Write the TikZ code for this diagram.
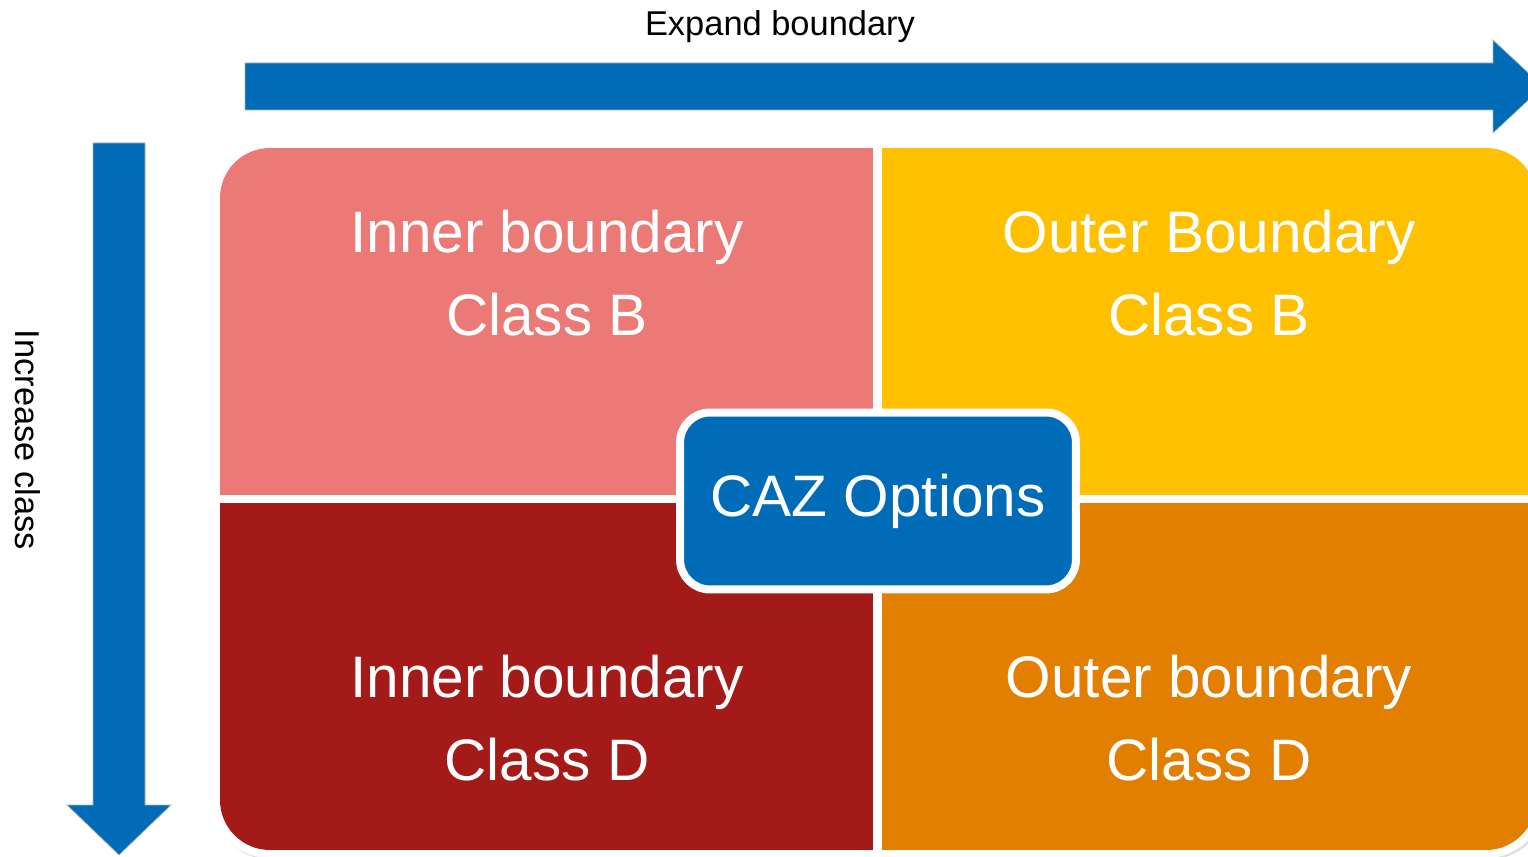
\documentclass[tikz,border=0pt]{standalone}
\usepackage{fontspec}
\setmainfont{Liberation Sans}
\usetikzlibrary{shadows}
\definecolor{cazblue}{RGB}{0,108,183}
\definecolor{innerB}{RGB}{235,122,119}
\definecolor{outerB}{RGB}{255,192,0}
\definecolor{innerD}{RGB}{163,26,24}
\definecolor{outerD}{RGB}{226,126,0}
\begin{document}
\begin{tikzpicture}[x=0.02cm, y=-0.02cm,
  quadtext/.style = {align=center, text=white,
    font=\fontsize{33.3pt}{47.6pt}\selectfont},
  bigarrow/.style = {fill=cazblue, draw=gray!60, line width=0.4pt},
  axistext/.style = {font=\fontsize{19.6pt}{24pt}\selectfont}]
  \useasboundingbox (0,0) rectangle (1528,857);
  \clip (0,0) rectangle (1528,857);
  % arrows
  \draw[bigarrow] (245,63) -- (1493,63) -- (1493,40) -- (1543,86.5)
    -- (1493,133) -- (1493,110) -- (245,110) -- cycle;
  \draw[bigarrow] (93,143) -- (145,143) -- (145,805) -- (171,805)
    -- (119,855) -- (67,805) -- (93,805) -- cycle;
  \node[axistext, anchor=base] (expand) at (780,36) {Expand boundary};
  \node[axistext, rotate=-90] (increase) at (28,440) {Increase class};
  % quadrants
  \fill[white, rounded corners=1.15cm,
    drop shadow={opacity=0.25, shadow xshift=1pt, shadow yshift=-1pt}]
    (212,140) rectangle (1544,858);
  \begin{scope}
    \clip[rounded corners=1cm] (220,148) rectangle (1536,850);
    \fill[innerB] (220,148) rectangle (873,495);
    \fill[outerB] (882,148) rectangle (1536,495);
    \fill[innerD] (220,503) rectangle (873,850);
    \fill[outerD] (882,503) rectangle (1536,850);
  \end{scope}
  \node[quadtext] (tl) at (547,273) {Inner boundary\\Class B};
  \node[quadtext] (tr) at (1209,273) {Outer Boundary\\Class B};
  \node[quadtext] (bl) at (547,718) {Inner boundary\\Class D};
  \node[quadtext] (br) at (1209,718) {Outer boundary\\Class D};
  % centre box
  \node[quadtext, fill=cazblue, draw=white, line width=0.16cm,
    rounded corners=0.6cm, minimum width=7.92cm, minimum height=3.54cm,
    drop shadow={opacity=0.3, shadow xshift=1.5pt, shadow yshift=-1.5pt}]
    (caz) at (878,501) {CAZ Options};
\end{tikzpicture}
\end{document}
